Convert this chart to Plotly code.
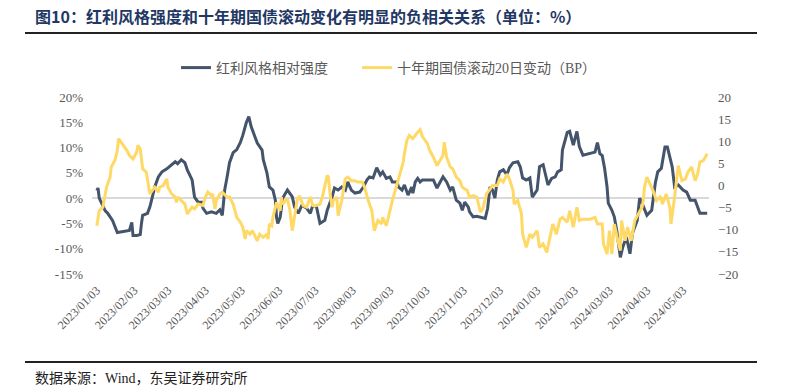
import plotly.graph_objects as go

# ---------------- data ----------------
div_dates = [
    "2023-01-03","2023-01-04","2023-01-05","2023-01-08","2023-01-10","2023-01-12","2023-01-16","2023-01-20",
    "2023-01-25","2023-01-30","2023-02-01","2023-02-02","2023-02-05","2023-02-08","2023-02-09","2023-02-10",
    "2023-02-14","2023-02-16","2023-02-18","2023-02-20","2023-02-23","2023-02-26","2023-03-02","2023-03-06",
    "2023-03-09","2023-03-11","2023-03-14","2023-03-17","2023-03-19","2023-03-23","2023-03-24","2023-03-25",
    "2023-03-28","2023-03-31","2023-04-01","2023-04-04","2023-04-08","2023-04-12","2023-04-15","2023-04-17",
    "2023-04-18","2023-04-19","2023-04-21","2023-04-23","2023-04-26","2023-04-29","2023-05-02","2023-05-04",
    "2023-05-07","2023-05-09","2023-05-11","2023-05-14","2023-05-16","2023-05-20","2023-05-21","2023-05-24",
    "2023-05-26","2023-05-29","2023-05-31","2023-06-01","2023-06-02","2023-06-04","2023-06-06","2023-06-10",
    "2023-06-14","2023-06-16","2023-06-19","2023-06-22","2023-06-26","2023-06-29","2023-07-01","2023-07-04",
    "2023-07-07","2023-07-11","2023-07-13","2023-07-17","2023-07-19","2023-07-22","2023-07-25","2023-07-28",
    "2023-07-30","2023-08-02","2023-08-05","2023-08-09","2023-08-12","2023-08-15","2023-08-17","2023-08-20",
    "2023-08-23","2023-08-26","2023-08-28","2023-08-31","2023-09-03","2023-09-05","2023-09-09","2023-09-10",
    "2023-09-13","2023-09-15","2023-09-18","2023-09-21","2023-09-22","2023-09-24","2023-09-26","2023-09-28",
    "2023-09-30","2023-10-04","2023-10-09","2023-10-12","2023-10-14","2023-10-17","2023-10-20","2023-10-23",
    "2023-10-25","2023-10-28","2023-10-31","2023-11-02","2023-11-04","2023-11-07","2023-11-08","2023-11-11",
    "2023-11-14","2023-11-17","2023-11-21","2023-11-23","2023-11-25","2023-11-27","2023-11-29","2023-12-01",
    "2023-12-03","2023-12-06","2023-12-09","2023-12-11","2023-12-14","2023-12-18","2023-12-20","2023-12-22",
    "2023-12-25","2023-12-28","2023-12-30","2024-01-03","2024-01-05","2024-01-08","2024-01-09","2024-01-12",
    "2024-01-15","2024-01-18","2024-01-20","2024-01-23","2024-01-24","2024-01-28","2024-01-30","2024-02-02",
    "2024-02-05","2024-02-07","2024-02-10","2024-02-16","2024-02-20","2024-02-22","2024-02-24","2024-02-26",
    "2024-02-28","2024-03-01","2024-03-02","2024-03-05","2024-03-07","2024-03-09","2024-03-12","2024-03-14",
    "2024-03-17","2024-03-20","2024-03-22","2024-03-26","2024-03-28","2024-03-30","2024-04-01","2024-04-03",
    "2024-04-07","2024-04-10","2024-04-12","2024-04-15","2024-04-18","2024-04-20","2024-04-24","2024-04-26",
    "2024-04-29","2024-05-03","2024-05-06","2024-05-09","2024-05-13","2024-05-15","2024-05-17","2024-05-23",
]
div_values = [
    1.5, 2.0, 0.0, -1.7, -2.5, -3.0, -4.4, -6.8,
    -6.6, -6.4, -4.8, -7.4, -7.4, -7.2, -5.0, -3.4,
    -3.0, -1.7, 0.2, 2.2, 4.2, 5.2, 5.8, 6.6,
    7.2, 6.8, 7.6, 7.0, 5.6, 3.6, 2.0, 0.2,
    -0.8, -0.8, -2.0, -3.0, -2.7, -3.0, -2.3, -3.4,
    -1.0, 1.6, 4.2, 7.0, 9.0, 9.6, 11.0, 12.4,
    15.0, 16.1, 14.1, 12.0, 10.9, 9.5, 7.6, 5.0,
    2.2, 1.6, -0.4, -3.8, -5.0, -3.8, 0.0, 1.6,
    0.3, -1.8, -3.0, -1.4, -2.0, -3.0, -1.4, -1.6,
    -5.0, -4.4, -2.4, 0.2, 2.0, 1.6, 2.2, 1.6,
    3.2, 1.6, 1.0, 1.2, 2.2, 3.6, 4.2, 4.0,
    6.0, 4.6, 5.2, 3.9, 4.2, 3.2, 3.2, 2.2,
    1.6, 2.6, 0.6, 2.2, 1.0, 3.2, 3.9, 3.2,
    3.6, 3.6, 3.6, 2.0, 3.0, 4.2, 3.2, 1.6,
    2.2, -0.4, -1.0, -2.4, -0.8, -1.8, -2.7, -3.7,
    -3.6, -3.8, -4.0, -2.0, 2.2, 1.6, 0.0, 3.6,
    5.2, 5.6, 4.6, 6.0, 7.0, 7.2, 6.2, 4.0,
    3.6, 4.0, 0.2, 1.6, 6.2, 6.6, 5.6, 2.6,
    3.9, 4.2, 5.2, 5.6, 9.5, 13.0, 13.2, 10.5,
    13.2, 10.2, 8.5, 8.8, 9.1, 11.0, 8.8, 8.4,
    5.8, 2.2, -1.0, -2.4, -3.7, -6.4, -11.7, -9.7,
    -7.7, -11.0, -7.0, -4.4, 0.0, -1.0, -2.4, -3.4,
    -2.4, 3.0, 5.2, 5.9, 10.1, 10.1, 6.2, 2.2,
    2.6, 1.6, 1.2, -0.4, -0.4, -1.8, -3.0, -3.0,
]

bond_dates = [
    "2023-01-03","2023-01-05","2023-01-08","2023-01-11","2023-01-14","2023-01-15","2023-01-18","2023-01-20",
    "2023-01-21","2023-01-24","2023-01-28","2023-01-30","2023-02-02","2023-02-05","2023-02-06","2023-02-08",
    "2023-02-09","2023-02-10","2023-02-13","2023-02-14","2023-02-16","2023-02-18","2023-02-20","2023-02-23",
    "2023-02-24","2023-02-27","2023-03-02","2023-03-03","2023-03-06","2023-03-09","2023-03-10","2023-03-11",
    "2023-03-14","2023-03-17","2023-03-19","2023-03-23","2023-03-25","2023-03-28","2023-04-01","2023-04-03",
    "2023-04-05","2023-04-08","2023-04-09","2023-04-11","2023-04-12","2023-04-15","2023-04-17","2023-04-21",
    "2023-04-23","2023-04-26","2023-04-29","2023-05-02","2023-05-04","2023-05-06","2023-05-07","2023-05-10",
    "2023-05-12","2023-05-16","2023-05-18","2023-05-21","2023-05-24","2023-05-25","2023-05-26","2023-05-28",
    "2023-05-29","2023-06-01","2023-06-04","2023-06-05","2023-06-06","2023-06-10","2023-06-12","2023-06-14",
    "2023-06-18","2023-06-20","2023-06-23","2023-06-26","2023-06-29","2023-07-01","2023-07-04","2023-07-07",
    "2023-07-09","2023-07-13","2023-07-14","2023-07-15","2023-07-17","2023-07-18","2023-07-21","2023-07-22",
    "2023-07-25","2023-07-28","2023-07-30","2023-08-02","2023-08-05","2023-08-07","2023-08-11","2023-08-13",
    "2023-08-16","2023-08-19","2023-08-21","2023-08-24","2023-08-27","2023-08-28","2023-08-31","2023-09-03",
    "2023-09-05","2023-09-09","2023-09-11","2023-09-14","2023-09-15","2023-09-17","2023-09-19","2023-09-22",
    "2023-09-25","2023-09-28","2023-09-30","2023-10-04","2023-10-06","2023-10-09","2023-10-12","2023-10-14",
    "2023-10-17","2023-10-18","2023-10-20","2023-10-23","2023-10-25","2023-10-28","2023-10-31","2023-11-02",
    "2023-11-06","2023-11-08","2023-11-11","2023-11-14","2023-11-17","2023-11-19","2023-11-22","2023-11-25",
    "2023-11-27","2023-12-01","2023-12-03","2023-12-06","2023-12-09","2023-12-11","2023-12-14","2023-12-15",
    "2023-12-18","2023-12-21","2023-12-22","2023-12-25","2023-12-28","2023-12-30","2024-01-03","2024-01-05",
    "2024-01-08","2024-01-11","2024-01-14","2024-01-16","2024-01-19","2024-01-22","2024-01-24","2024-01-28",
    "2024-01-30","2024-02-02","2024-02-05","2024-02-07","2024-02-10","2024-02-16","2024-02-20","2024-02-22",
    "2024-02-26","2024-02-27","2024-03-01","2024-03-03","2024-03-05","2024-03-07","2024-03-10","2024-03-12",
    "2024-03-13","2024-03-16","2024-03-18","2024-03-21","2024-03-24","2024-03-27","2024-03-30","2024-03-31",
    "2024-04-01","2024-04-03","2024-04-05","2024-04-08","2024-04-11","2024-04-14","2024-04-16","2024-04-19",
    "2024-04-22","2024-04-23","2024-04-26","2024-04-29","2024-05-02","2024-05-05","2024-05-07","2024-05-10",
    "2024-05-13","2024-05-15","2024-05-17","2024-05-20","2024-05-23",
]
bond_values = [
    -9.1, -5.7, -4.9, -0.4, 1.9, 4.2, 5.7, 7.9,
    10.6, 9.5, 7.9, 6.8, 6.0, 7.5, 9.1, 8.3,
    6.4, 3.8, 3.0, 1.1, -1.9, -1.1, -0.4, -1.5,
    -0.4, 0.0, 1.5, -0.4, -1.9, -2.6, -3.8, -2.6,
    -3.4, -4.2, -6.4, -4.9, -5.3, -4.2, -4.5, -2.6,
    -1.5, -2.3, -1.9, -5.3, -3.4, -1.9, -1.5, -2.6,
    -2.6, -4.2, -7.2, -8.3, -9.4, -12.1, -10.2, -11.0,
    -10.2, -12.5, -11.0, -11.7, -11.0, -12.1, -8.7, -9.1,
    -7.2, -3.8, -5.7, -2.6, -4.2, -3.0, -5.5, -10.2,
    -3.4, -2.3, -4.5, -4.9, -2.6, -4.5, -4.5, -4.2,
    -2.6, 2.3, 1.9, -1.1, -4.9, -3.4, -2.6, -6.8,
    -3.4, 1.5, 1.9, 1.1, 1.1, 0.8, 0.8, -0.4,
    -3.4, -5.7, -10.2, -7.9, -8.7, -7.2, -9.1, -5.7,
    -3.4, 0.4, 2.3, 5.3, 7.2, 10.2, 11.3, 10.6,
    11.7, 12.6, 11.0, 9.5, 7.9, 6.4, 4.5, 5.3,
    6.8, 9.8, 6.4, 4.2, 3.8, 1.9, 1.1, -0.4,
    -1.1, -2.6, -2.3, -2.6, -6.0, -5.3, -1.9, -0.8,
    0.0, 0.0, 1.5, 0.8, 2.6, 1.5, -1.1, -4.2,
    -3.4, -6.4, -11.0, -14.0, -11.0, -11.7, -10.2, -14.0,
    -13.2, -15.1, -11.0, -8.7, -11.0, -7.6, -7.2, -8.3,
    -5.7, -9.4, -4.9, -7.9, -7.6, -7.6, -7.2, -8.7,
    -8.7, -13.2, -15.5, -10.2, -15.5, -8.7, -12.5, -14.7,
    -7.9, -12.5, -9.4, -12.5, -7.9, -6.4, -4.9, -3.4,
    -0.4, 1.9, 0.8, -1.1, -3.4, -2.6, -4.2, -1.9,
    -4.9, -8.7, -2.6, 4.5, 1.1, 1.5, 3.0, 4.2,
    1.1, 2.6, 5.3, 5.7, 7.2,
]

tick_dates = [
    "2023-01-03","2023-02-03","2023-03-03","2023-04-03","2023-05-03","2023-06-03","2023-07-03",
    "2023-08-03","2023-09-03","2023-10-03","2023-11-03","2023-12-03","2024-01-03","2024-02-03",
    "2024-03-03","2024-04-03","2024-05-03",
]
tick_labels = [d.replace("-", "/") for d in tick_dates]

left_ticks = [-15, -10, -5, 0, 5, 10, 15, 20]
left_labels = [f"{v}%" for v in left_ticks]
right_ticks = [-20, -15, -10, -5, 0, 5, 10, 15, 20]

title_text = "图10：红利风格强度和十年期国债滚动变化有明显的负相关关系（单位：%）"
source_text = "数据来源：Wind，东吴证券研究所"
name_div = "红利风格相对强度"
name_bond = "十年期国债滚动20日变动（BP）"

NAVY = "#44546A"
GOLD = "#FFD966"
GRAY = "#595959"
SERIF = "Liberation Serif, Noto Sans CJK SC, serif"

# ---------------- figure ----------------
fig = go.Figure()
fig.add_trace(go.Scatter(x=div_dates, y=div_values, name=name_div, mode="lines",
                         line=dict(color=NAVY, width=3), yaxis="y", legend="legend"))
fig.add_trace(go.Scatter(x=bond_dates, y=bond_values, name=name_bond, mode="lines",
                         line=dict(color=GOLD, width=3), yaxis="y2", legend="legend2"))

L, R, T, B = 92, 76, 97, 113
W, H = 785, 387
pw, ph = W - L - R, H - T - B

def px_x(x):
    return (x - L) / pw

def px_y(y):
    return (H - B - y) / ph

legend_common = dict(orientation="h", xanchor="left", xref="container",
                     y=1 - 68 / H, yanchor="middle", yref="container",
                     font=dict(family=SERIF, size=14, color=GRAY), itemwidth=30,
                     bgcolor="rgba(0,0,0,0)")

fig.update_layout(
    width=W, height=H,
    margin=dict(l=L, r=R, t=T, b=B, pad=0, autoexpand=False),
    paper_bgcolor="white", plot_bgcolor="white",
    showlegend=True,
    legend=dict(x=176 / W, **legend_common),
    legend2=dict(x=357 / W, **legend_common),
    title=dict(text=title_text, x=35 / W, xanchor="left", xref="container",
               y=1 - 17 / H, yanchor="middle", yref="container",
               font=dict(family="Noto Sans CJK SC", size=16, color="#1F3864", weight="bold")),
    xaxis=dict(type="date", range=["2022-12-30", "2024-05-24 12:00"],
               tickvals=tick_dates, ticktext=tick_labels, tickangle=-45,
               tickfont=dict(family=SERIF, size=12, color=GRAY), automargin=False,
               showgrid=False, zeroline=False, showline=False, ticks="", ticklabelstandoff=6),
    yaxis=dict(range=[-15, 20], tickvals=left_ticks, ticktext=left_labels, automargin=False,
               tickfont=dict(family=SERIF, size=13, color=GRAY),
               showgrid=False, zeroline=True, zerolinecolor="#D9D9D9", zerolinewidth=1.5,
               showline=False, ticks="", ticklabelstandoff=8),
    yaxis2=dict(range=[-20, 20], tickvals=right_ticks, overlaying="y", side="right", automargin=False,
                tickfont=dict(family=SERIF, size=13, color=GRAY),
                showgrid=False, zeroline=False, showline=False, ticks="", ticklabelstandoff=8),
)

# title & footer rules
fig.add_shape(type="line", xref="paper", yref="paper", x0=px_x(25), x1=px_x(757),
              y0=px_y(33), y1=px_y(33), line=dict(color="#222222", width=2))
fig.add_shape(type="line", xref="paper", yref="paper", x0=px_x(25), x1=px_x(757),
              y0=px_y(362), y1=px_y(362), line=dict(color="#222222", width=2))
fig.add_annotation(text=source_text, xref="paper", yref="paper", x=px_x(33), y=px_y(378),
                   xanchor="left", yanchor="middle", showarrow=False,
                   font=dict(family=SERIF, size=14, color="#222222"))

fig.write_html("out.html", config={"displayModeBar": False},
               post_script="document.body.style.margin='0';")
